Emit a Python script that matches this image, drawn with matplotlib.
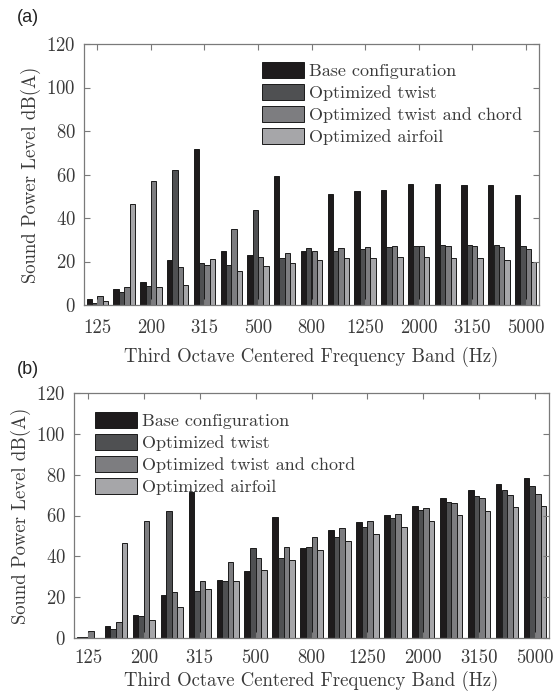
import matplotlib
matplotlib.use("Agg")
import matplotlib.pyplot as plt
import numpy as np

plt.rcParams["font.family"] = ["cmr10", "DejaVu Serif"]
plt.rcParams["axes.formatter.use_mathtext"] = True

bands = ["125", "160", "200", "250", "315", "400", "500", "630", "800", "1000",
         "1250", "1600", "2000", "2500", "3150", "4000", "5000"]
series = ["Base configuration", "Optimized twist", "Optimized twist and chord", "Optimized airfoil"]
colors = ["#1e1b1c", "#4f5052", "#7d7d80", "#a6a6a9"]

# panel (a)
a_base = [2.8, 7.4, 10.5, 20.6, 71.7, 24.9, 22.8, 59.5, 24.9, 51.1, 52.3, 52.9, 55.8, 55.5, 55.2, 55.2, 50.6]
a_twist = [0.8, 5.8, 8.9, 62.2, 19.2, 18.2, 43.7, 21.5, 26.0, 24.9, 25.8, 26.5, 27.2, 27.5, 27.7, 27.5, 27.1]
a_chord = [4.3, 8.5, 57.2, 17.7, 18.3, 34.8, 22.0, 23.8, 25.0, 26.0, 26.6, 27.1, 27.2, 27.2, 26.9, 26.5, 25.7]
a_airfoil = [2.0, 46.6, 8.5, 9.2, 21.2, 15.5, 17.8, 19.4, 20.8, 21.4, 21.7, 22.0, 22.0, 21.7, 21.4, 20.8, 20.0]

# panel (b)
b_base = [0.3, 6.0, 11.1, 21.1, 71.5, 28.4, 32.7, 59.4, 43.9, 53.1, 56.8, 60.4, 64.8, 68.7, 72.5, 75.4, 78.2]
b_twist = [0.3, 4.6, 10.6, 62.0, 23.2, 27.9, 44.1, 39.0, 44.6, 49.5, 54.5, 58.8, 62.7, 66.4, 69.7, 72.5, 74.6]
b_chord = [3.3, 7.8, 57.1, 22.7, 27.9, 37.2, 39.2, 44.6, 49.5, 53.7, 57.3, 60.7, 63.7, 66.1, 68.4, 69.9, 70.5]
b_airfoil = [0.2, 46.5, 8.8, 15.2, 24.2, 27.8, 33.3, 38.4, 43.1, 47.3, 51.1, 54.5, 57.3, 60.1, 62.2, 64.0, 64.7]

W, H = 555, 699
fig = plt.figure(figsize=(W / 100, H / 100), dpi=100)

text_color = "#3a3a3a"
spine_color = "#7a7a7a"


def draw_panel(rect, data, legend_anchor, xpad, labelpad):
    left, top, right, bottom = rect
    ax = fig.add_axes([left / W, 1 - bottom / H, (right - left) / W, (bottom - top) / H])
    x = np.arange(len(bands))
    width = 0.2
    for i, (vals, name, c) in enumerate(zip(data, series, colors)):
        ax.bar(x + (i - 1.5) * width, vals, width, color=c, edgecolor="#1a1a1a",
               linewidth=0.7, label=name)
    ax.set_xlim(-0.5, len(bands) - 0.5)
    ax.set_ylim(0, 120)
    ax.set_yticks(np.arange(0, 121, 20))
    ax.set_xticks(x[::2])
    ax.set_xticklabels(bands[::2])
    ax.tick_params(direction="in", top=True, right=True, length=4, width=0.8,
                   color=spine_color, labelcolor=text_color, labelsize=13.5, pad=6)
    ax.tick_params(axis="x", pad=xpad)
    for s in ax.spines.values():
        s.set_color(spine_color)
        s.set_linewidth(0.9)
    ax.set_xlabel("Third Octave Centered Frequency Band (Hz)", fontsize=13.5,
                  color=text_color, labelpad=labelpad)
    ax.set_ylabel("Sound Power Level dB(A)", fontsize=13.5, color=text_color, labelpad=4)
    ax.legend(loc="upper left", bbox_to_anchor=legend_anchor, frameon=False,
              fontsize=13, handlelength=2.3, handleheight=1.0, handletextpad=0.3,
              labelspacing=0.25, borderaxespad=0, labelcolor=text_color)
    return ax


ax_a = draw_panel((84, 44, 539, 305), [a_base, a_twist, a_chord, a_airfoil],
                  ((255 - 84) / 455, 1 - (55 - 44) / 261), 10, 7)
ax_b = draw_panel((74, 393, 549, 638), [b_base, b_twist, b_chord, b_airfoil],
                  ((88 - 74) / 475, 1 - (405 - 393) / 245), 8, 3)

fig.text(17 / W, 1 - 18 / H, "(a)", fontsize=13, family=["Liberation Sans"],
         color="#222222", va="center", ha="left")
fig.text(17 / W, 1 - 370 / H, "(b)", fontsize=13, family=["Liberation Sans"],
         color="#222222", va="center", ha="left")

fig.savefig("out.png", dpi=100)
